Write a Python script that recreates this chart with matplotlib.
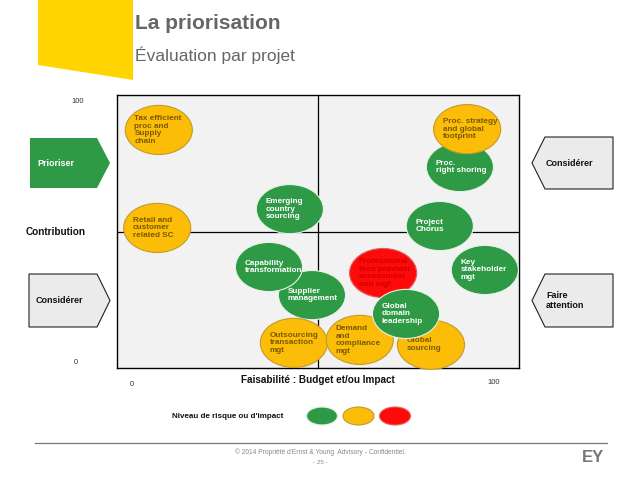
import matplotlib
matplotlib.use('Agg')
import matplotlib.pyplot as plt
from matplotlib.patches import Ellipse, Polygon

plt.rcParams['font.family'] = ['Liberation Sans', 'DejaVu Sans']

# projets : position (faisabilite, contribution) sur 0..100, niveau de risque
names = ['Tax efficient\nproc and\nSupply\nchain',
         'Retail and\ncustomer\nrelated SC',
         'Emerging\ncountry\nsourcing',
         'Proc.\nright shoring',
         'Proc. strategy\nand global\nfootprint',
         'Project\nChorus',
         'Key\nstakeholder\nmgt',
         'Supplier\nmanagement',
         'Capability\ntransformation',
         'Professional\nfees provider\nassessment\nand mgt',
         'Outsourcing\ntransaction\nmgt',
         'Demand\nand\ncompliance\nmgt',
         'Global\nsourcing',
         'Global\ndomain\nleadership']
x = [10.4, 10.0, 43.0, 85.3, 87.1, 80.3, 91.5, 48.5, 37.8, 66.2, 44.0, 60.4, 78.1, 71.9]
y = [87.2, 51.3, 58.2, 73.6, 87.5, 52.0, 35.9, 26.7, 37.0, 34.8, 9.2, 10.3, 8.5, 19.8]
risk = ['orange', 'orange', 'green', 'green', 'orange', 'green', 'green',
        'green', 'green', 'red', 'orange', 'orange', 'orange', 'green']

fill = {'green': '#2f9a45', 'orange': '#fbbd08', 'red': '#ff0a0a'}
edge = {'green': '#e8f2e8', 'orange': '#c49a2c', 'red': '#e06060'}
txt = {'green': 'white', 'orange': '#7a5a00', 'red': '#d00000'}

legend_label = "Niveau de risque ou d'impact"
legend_levels = ['green', 'orange', 'red']

fig = plt.figure(figsize=(6.38, 4.79), dpi=100)

# calque de mise en page en pixels
bg = fig.add_axes([0, 0, 1, 1])
bg.set_xlim(0, 638)
bg.set_ylim(479, 0)
bg.axis('off')

bg.add_patch(Polygon([(38, 0), (133, 0), (133, 80), (38, 65)], closed=True,
                     facecolor='#ffd400', edgecolor='none'))
bg.text(135, 23, 'La priorisation', fontsize=15, fontweight='bold', color='#666666', va='center')
bg.text(135, 55, 'Évaluation par projet', fontsize=12.5, color='#666666', va='center')

# fleches laterales
def arrow_right(x0, x1, tip, y0, y1, fc, ec, label, tc):
    pts = [(x0, y0), (x1, y0), (tip, (y0 + y1) / 2), (x1, y1), (x0, y1)]
    bg.add_patch(Polygon(pts, closed=True, facecolor=fc, edgecolor=ec, lw=0.8))
    bg.text(x0 + 7, (y0 + y1) / 2, label, fontsize=6.5, fontweight='bold', color=tc,
            va='center', linespacing=1.1)


def arrow_left(tip, x0, x1, y0, y1, fc, ec, label, tc):
    pts = [(tip, (y0 + y1) / 2), (x0, y0), (x1, y0), (x1, y1), (x0, y1)]
    bg.add_patch(Polygon(pts, closed=True, facecolor=fc, edgecolor=ec, lw=0.8))
    bg.text(x0 + 1, (y0 + y1) / 2, label, fontsize=6.5, fontweight='bold', color=tc,
            va='center', linespacing=1.1)


arrow_right(30, 97, 110, 138, 188, '#2f9a45', 'none', 'Prioriser', 'white')
arrow_right(29, 97, 110, 274, 327, '#ebebeb', '#222222', 'Considérer', '#111111')
arrow_left(532, 545, 613, 137, 189, '#ebebeb', '#222222', 'Considérer', '#111111')
arrow_left(532, 545, 613, 274, 327, '#ebebeb', '#222222', 'Faire\nattention', '#111111')

bg.text(56, 232, 'Contribution', fontsize=7.2, fontweight='bold', color='#111111',
        ha='center', va='center')
bg.text(78, 101, '100', fontsize=5.5, color='#333333', ha='center', va='center')
bg.text(76, 362, '0', fontsize=5.5, color='#333333', ha='center', va='center')
bg.text(132, 384, '0', fontsize=5.5, color='#333333', ha='center', va='center')
bg.text(494, 383, '100', fontsize=5.5, color='#333333', ha='center', va='center')
bg.text(318, 380, 'Faisabilité : Budget et/ou Impact', fontsize=7.2, fontweight='bold',
        color='#111111', ha='center', va='center')

# legende
bg.text(172, 416, legend_label, fontsize=5.8, fontweight='bold', color='#111111', va='center')
for i, lvl in enumerate(legend_levels):
    bg.add_patch(Ellipse((322 + i * 36.5, 416), 31, 18, facecolor=fill[lvl],
                         edgecolor=edge[lvl], lw=0.8))

# pied de page
bg.plot([35, 607], [443, 443], color='#777777', lw=0.9)
bg.text(320, 452, "© 2014 Propriété d'Ernst & Young  Advisory - Confidentiel.",
        fontsize=4.8, color='#888888', ha='center', va='center')
bg.text(320, 462, '- 25 -', fontsize=4.5, color='#888888', ha='center', va='center')
bg.text(593, 458, 'EY', fontsize=12, fontweight='bold', color='#777777',
        ha='center', va='center')

# matrice
ax = fig.add_axes([117 / 638, 1 - 368 / 479, 402 / 638, 273 / 479])
ax.set_xlim(0, 100)
ax.set_ylim(0, 100)
ax.set_facecolor('#f2f2f2')
ax.set_xticks([])
ax.set_yticks([])
for s in ax.spines.values():
    s.set_color('black')
    s.set_linewidth(1)
ax.axvline(50, color='black', lw=0.9, zorder=1)
ax.axhline(50, color='black', lw=0.9, zorder=1)

w, h = 16.7, 18.0
for i, (n, xi, yi, r) in enumerate(zip(names, x, y, risk)):
    z = 2 + i * 2
    ax.add_patch(Ellipse((xi, yi), w, h, facecolor=fill[r], edgecolor=edge[r],
                         lw=0.8, zorder=z, clip_on=False))
    ax.text(xi - w / 2 + 2.3, yi, n, fontsize=5.9, fontweight='bold', color=txt[r],
            va='center', ha='left', linespacing=1.15, zorder=z + 1)

fig.savefig('out.png', dpi=100)
